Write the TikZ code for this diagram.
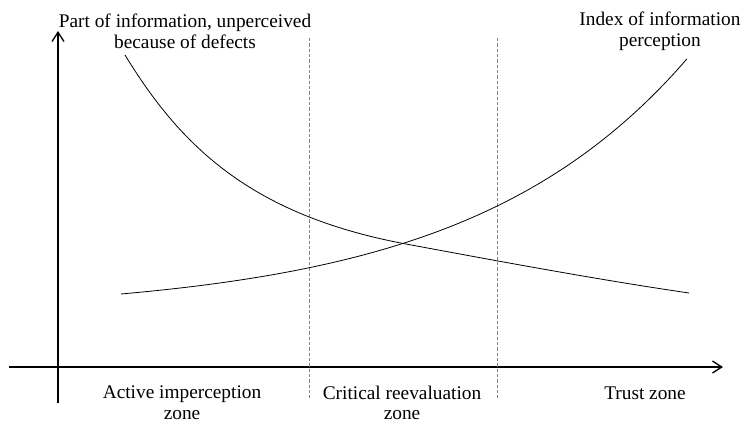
\documentclass[tikz,border=0pt]{standalone}
\usepackage{fontspec}
\setmainfont{Liberation Serif}
\usepackage{tikz}
\usetikzlibrary{arrows.meta}

\tikzset{
  lbl/.style={align=center, inner sep=0pt, font=\fontsize{14.5}{15.5}\selectfont},
  axis/.style={line width=1pt, -{Straight Barb[length=7pt,width=9pt]}},
  zoneline/.style={gray, dashed, line width=0.5pt, dash pattern=on 2.5pt off 1.5pt},
  curve/.style={line width=0.6pt}
}

\begin{document}
\begin{tikzpicture}[x=0.75pt,y=-0.75pt]
\useasboundingbox (0,0) rectangle (746,425);
% axes
\coordinate (O) at (58,403);
\coordinate (ytop) at (58,31);
\coordinate (xleft) at (9,367);
\coordinate (xright) at (723,367);
\draw[axis] (O) -- (ytop);
\draw[axis] (xleft) -- (xright);
% zone borders
\coordinate (d1top) at (309,38);
\coordinate (d1bot) at (309,398);
\coordinate (d2top) at (497,38);
\coordinate (d2bot) at (497,398);
\draw[zoneline] (d1top) -- (d1bot);
\draw[zoneline] (d2top) -- (d2bot);
% curves
\coordinate (c1start) at (125,55);
\coordinate (cross) at (406,244);
\coordinate (c1end) at (689,293);
\draw[curve] (c1start) .. controls (180,145) and (250,215) .. (cross)
  .. controls (500,261.5) and (600,280) .. (c1end);
\draw[curve] plot[domain=121:687, samples=80, smooth] (\x, {313.4 - 11.2*exp(0.004545*\x)});
% labels
\node[lbl] (unperc) at (185,31) {Part of information, unperceived\\because of defects};
\node[lbl] (index) at (660,31) {Index of information\\perception};
\node[lbl] (active) at (182,403) {Active imperception\\zone};
\node[lbl] (critical) at (402,403) {Critical reevaluation\\zone};
\node[lbl] (trust) at (645,393) {Trust zone};
\end{tikzpicture}
\end{document}
